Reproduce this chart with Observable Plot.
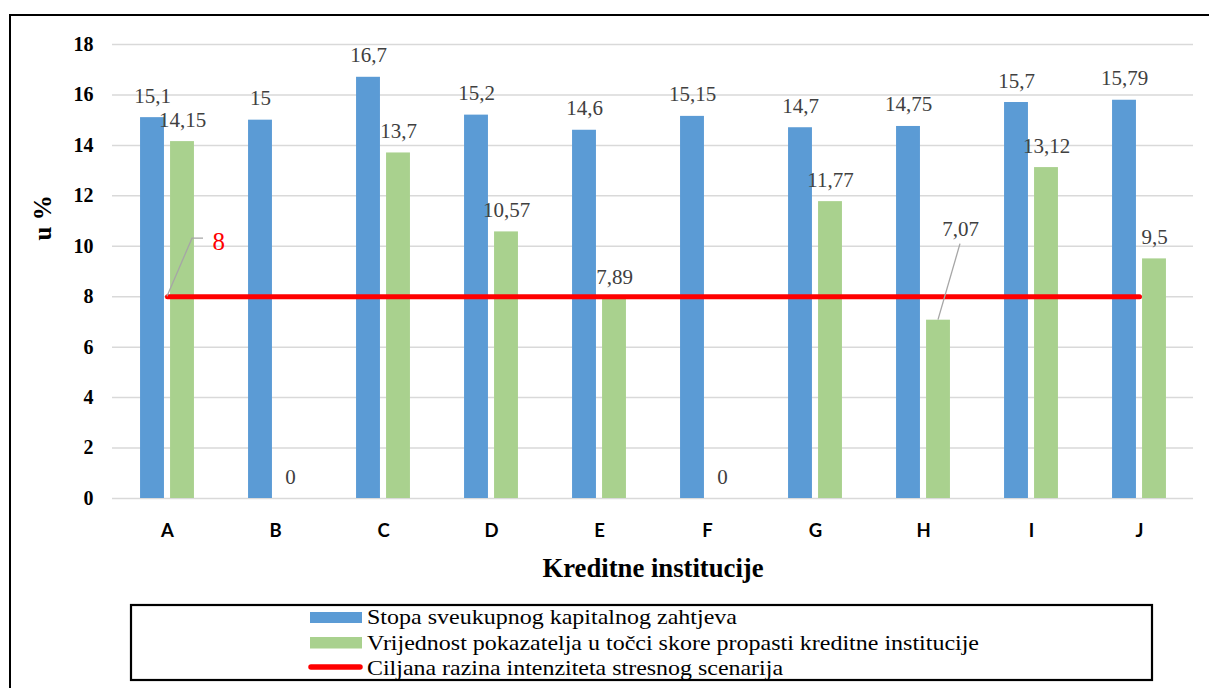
<!DOCTYPE html>
<html><head><meta charset="utf-8">
<script src="https://cdn.jsdelivr.net/npm/d3@7"></script>
<script src="https://cdn.jsdelivr.net/npm/@observablehq/plot@0.6"></script>
<style>
html,body{margin:0;padding:0;background:#fff;}
#wrap{position:relative;width:1209px;height:688px;overflow:hidden;background:#fff;}
#chart svg,#legend svg{display:block;}
#frame{position:absolute;left:9px;top:13.5px;width:1300px;height:800px;border-top:2.5px solid #000;border-left:2.5px solid #000;pointer-events:none;}
</style></head><body><div id="wrap"><div id="chart"></div><div id="legend"></div><div id="frame"></div></div>
<script>
const categories = ["A", "B", "C", "D", "E", "F", "G", "H", "I", "J"];
const stopaValues = [15.1, 15, 16.7, 15.2, 14.6, 15.15, 14.7, 14.75, 15.7, 15.79];
const pokazateljValues = [14.15, 0, 13.7, 10.57, 7.89, 0, 11.77, 7.07, 13.12, 9.5];
const targetLevel = 8;
const yTicks = [0, 2, 4, 6, 8, 10, 12, 14, 16, 18];
const seriesNames = [
  "Stopa sveukupnog kapitalnog zahtjeva",
  "Vrijednost pokazatelja u točci skore propasti kreditne institucije",
  "Ciljana razina intenziteta stresnog scenarija"
];
const seriesColors = ["#5b9bd5", "#a9d18e", "#ff0000"];
const xTitle = "Kreditne institucije";
const yTitle = "u %";
const movedLabelCat = "H";

const rows = categories.map((c, i) => ({cat: c, stopa: stopaValues[i], pok: pokazateljValues[i]}));
const fmt = v => String(v).replace(".", ",");

const W = 1209, H = 595, mL = 112, mR = 16, mT = 44, mB = 97;
const band = (W - mL - mR) / categories.length;
const half = band / 2;
const SERIF = "Liberation Serif";

function leaders(index, scales) {
  const x = scales.x, y = scales.y;
  const bw = x.bandwidth ? x.bandwidth() : 0;
  const g = d3.create("svg:g").attr("fill", "none").attr("stroke", "#a6a6a6").attr("stroke-width", 1.3);
  const hi = categories.indexOf(movedLabelCat);
  const hx = x(movedLabelCat) + bw / 2 + 15, hy = y(pokazateljValues[hi]);
  g.append("path").attr("d", `M${hx},${hy}L${hx + 22},${hy - 76}`);
  const ax = x(categories[0]) + bw / 2, ay = y(targetLevel);
  g.append("path").attr("d", `M${ax},${ay}L${ax + 25},${ay - 58}L${ax + 36},${ay - 58}`);
  return g.node();
}

const chart = Plot.plot({
  width: W, height: H,
  marginLeft: mL, marginRight: mR, marginTop: mT, marginBottom: mB,
  style: {fontFamily: SERIF, background: "#fff", overflow: "visible"},
  x: {type: "band", domain: categories, padding: 0, axis: null, label: null},
  y: {domain: [0, 18], axis: null, label: null},
  marks: [
    Plot.gridY(yTicks, {stroke: "#d9d9d9", strokeOpacity: 1, strokeWidth: 1.5}),
    Plot.barY(rows, {x: "cat", y: "stopa", fill: seriesColors[0], insetLeft: half - 27, insetRight: half + 3}),
    Plot.barY(rows, {x: "cat", y: "pok", fill: seriesColors[1], insetLeft: half + 3, insetRight: half - 27}),
    Plot.lineY(categories, {x: d => d, y: d => targetLevel, stroke: seriesColors[2], strokeWidth: 5, strokeLinecap: "round"}),
    leaders,
    Plot.text(rows, {x: "cat", y: "stopa", text: d => fmt(d.stopa), dx: -15, dy: -15, lineAnchor: "bottom", fontSize: 21, fill: "#404040", fontFamily: SERIF}),
    Plot.text(rows.filter(d => d.cat !== movedLabelCat), {x: "cat", y: "pok", text: d => fmt(d.pok), dx: 15, dy: -15, lineAnchor: "bottom", fontSize: 21, fill: "#404040", fontFamily: SERIF}),
    Plot.text(rows.filter(d => d.cat === movedLabelCat), {x: "cat", y: "pok", text: d => fmt(d.pok), dx: 37, dy: -84, lineAnchor: "bottom", fontSize: 21, fill: "#404040", fontFamily: SERIF}),
    Plot.text([fmt(targetLevel)], {x: () => categories[0], y: () => targetLevel, text: d => d, dx: 45, dy: -47, textAnchor: "start", lineAnchor: "bottom", fontSize: 25, fill: "#ff0000", fontFamily: SERIF}),
    Plot.axisX({tickSize: 0, tickPadding: 25, fontSize: 18.5, fontWeight: "bold", fontFamily: "Lato", fill: "#000", label: null}),
    Plot.axisY(yTicks, {tickSize: 0, tickPadding: 19, fontSize: 20, fontWeight: "bold", fill: "#000", label: null, fontFamily: SERIF}),
    Plot.text([yTitle], {frameAnchor: "left", rotate: -90, dx: -70, dy: -31, fontWeight: "bold", fontSize: 25, lineAnchor: "middle", fill: "#000", fontFamily: SERIF}),
    Plot.text([xTitle], {frameAnchor: "bottom", dy: 78, fontWeight: "bold", fontSize: 26.7, lineAnchor: "bottom", fill: "#000", fontFamily: SERIF})
  ]
});
document.getElementById("chart").appendChild(chart);

// Legend
const lg = d3.select("#legend").append("svg").attr("width", W).attr("height", 688 - H);
lg.append("rect").attr("x", 131).attr("y", 10).attr("width", 1021).attr("height", 75)
  .attr("fill", "none").attr("stroke", "#000").attr("stroke-width", 2.2);
const legendWidths = [370, 612, 416];
const baselines = [28.5, 55, 79.5];
lg.append("rect").attr("x", 310).attr("y", 17).attr("width", 52).attr("height", 11).attr("fill", seriesColors[0]);
lg.append("rect").attr("x", 310).attr("y", 42).attr("width", 52).attr("height", 11.5).attr("fill", seriesColors[1]);
lg.append("line").attr("x1", 311).attr("x2", 360).attr("y1", 72).attr("y2", 72)
  .attr("stroke", seriesColors[2]).attr("stroke-width", 5.5).attr("stroke-linecap", "round");
seriesNames.forEach((name, i) => {
  lg.append("text").attr("x", 367).attr("y", baselines[i])
    .attr("font-family", SERIF).attr("font-size", 22).attr("fill", "#000")
    .attr("textLength", legendWidths[i]).attr("lengthAdjust", "spacingAndGlyphs")
    .text(name);
});
</script>
</body></html>
